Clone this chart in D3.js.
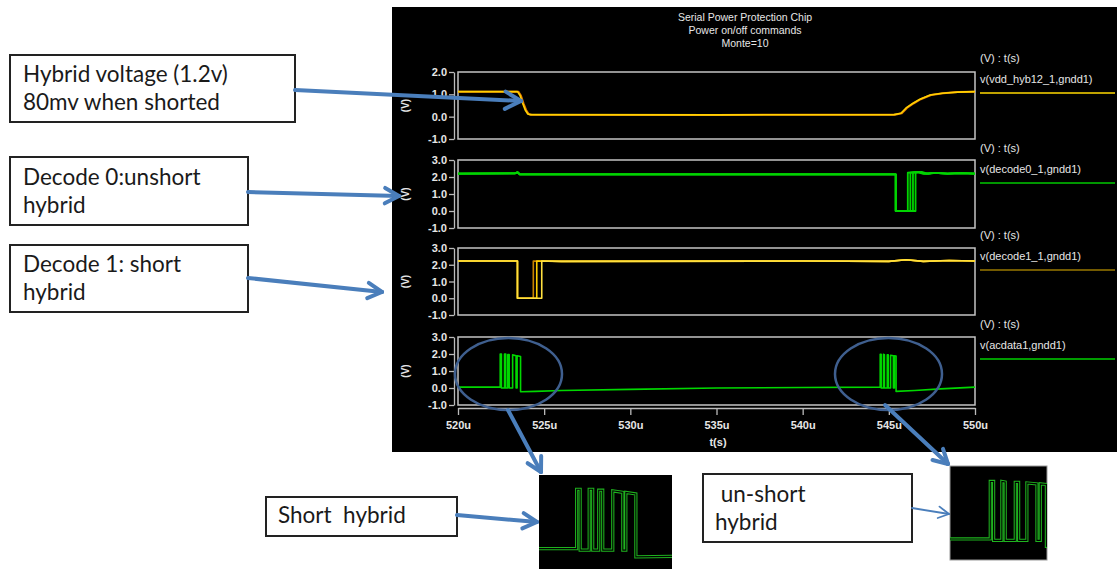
<!DOCTYPE html>
<html>
<head>
<meta charset="utf-8">
<script src="https://cdn.jsdelivr.net/npm/d3@7"></script>
<style>
  body { margin: 0; background: #fff; }
  svg { display: block; }
</style>
</head>
<body>
<svg width="1117" height="569"></svg>
<script>
// ---- data ----
var timeTicks = [520, 525, 530, 535, 540, 545, 550];
var titleLines = ["Serial Power Protection Chip", "Power on/off commands", "Monte=10"];
var signalNames = ["v(vdd_hyb12_1,gndd1)", "v(decode0_1,gndd1)", "v(decode1_1,gndd1)", "v(acdata1,gndd1)"];

// hybrid supply, two monte carlo runs
var hybT  = [520, 523.45, 523.6, 523.75, 523.9, 524.05, 524.2, 535, 545.3, 545.7, 546.0, 546.4, 546.8, 547.4, 548.1, 549, 550];
var hybT2 = [520, 523.5, 523.65, 523.8, 523.95, 524.1, 524.25, 535, 545.35, 545.75, 546.05, 546.45, 546.85, 547.45, 548.15, 549, 550];
var hybV  = [1.12, 1.12, 0.95, 0.6, 0.3, 0.12, 0.09, 0.08, 0.09, 0.15, 0.39, 0.6, 0.78, 0.97, 1.05, 1.1, 1.12];

// decode0, runs differ in return time
var dec0Runs = [
  [520, 523.3, 523.45, 523.6, 545.4, 545.4, 546.1, 546.1, 546.6, 547.0, 547.6, 548.4, 549.2, 550],
  [520, 523.3, 523.45, 523.6, 545.4, 545.4, 546.25, 546.25, 546.7, 547.1, 547.6, 548.4, 549.2, 550],
  [520, 523.3, 523.45, 523.6, 545.4, 545.4, 546.4, 546.4, 546.8, 547.2, 547.6, 548.4, 549.2, 550],
  [520, 523.3, 523.45, 523.6, 545.4, 545.4, 546.55, 546.55, 546.9, 547.3, 547.7, 548.4, 549.2, 550]
];
var dec0V = [2.2, 2.21, 2.28, 2.15, 2.16, 0, 0, 2.25, 2.3, 2.19, 2.24, 2.2, 2.23, 2.2];

// decode1
var dec1Runs = [
  [520, 523.45, 523.45, 524.37, 524.37, 526, 540, 545, 546, 547, 548.5, 550],
  [520, 523.45, 523.45, 524.57, 524.57, 526, 540, 545, 546, 547, 548.5, 550],
  [520, 523.45, 523.45, 524.86, 524.86, 526, 540, 545, 546, 547, 548.5, 550]
];
var dec1V = [2.22, 2.22, 0, 0, 2.22, 2.2, 2.22, 2.2, 2.3, 2.2, 2.25, 2.22];
var dec1Colors = ["#c88400", "#ffd000", "#ffe040"];

// acdata, two command bursts
var acT = [520, 522.45, 522.45, 522.52, 522.52, 522.70, 522.70, 522.77, 522.77, 522.89, 522.89, 522.97, 522.97,
           523.17, 523.17, 523.37, 523.37, 523.43, 523.43, 523.63, 523.63, 524.5, 526, 530, 535, 540, 544.5,
           544.5, 544.555, 544.555, 544.69, 544.69, 544.745, 544.745, 544.91, 544.91, 544.965, 544.965,
           545.10, 545.10, 545.265, 545.265, 545.32, 545.32, 545.42, 545.42, 546.5, 548, 550];
var acV = [0.05, 0.05, 2.0, 2.0, 0.0, 0.0, 2.0, 2.0, 0.0, 0.0, 1.97, 1.97, 0.0,
           0.0, 1.95, 1.9, 0.0, 0.0, 1.9, 1.85, -0.22, -0.2, -0.15, -0.08, 0.0, 0.03, 0.05,
           1.98, 1.98, 0.0, 0.0, 1.98, 1.96, 0.0, 0.0, 1.95, 1.95, 0.0,
           0.0, 1.93, 1.9, 0.0, 0.0, 1.9, 1.88, -0.2, -0.15, -0.05, 0.05];

var notes = [
  ["Hybrid voltage (1.2v)", "80mv when shorted"],
  ["Decode 0:unshort", "hybrid"],
  ["Decode 1: short", "hybrid"],
  ["Short  hybrid"],
  [" un-short", "hybrid"]
];

// ---- drawing ----
var svg = d3.select("svg");
var chartFont = "'Liberation Sans', Arial, sans-serif";
var noteFont = "Lato, 'Open Sans', sans-serif";
var arrowBlue = "#4a7ebb";

function pts(t, v) { return t.map(function(d, i) { return [d, v[i]]; }); }

svg.append("rect").attr("x", 0).attr("y", 0).attr("width", 1117).attr("height", 569).attr("fill", "#fff");
svg.append("rect").attr("x", 392).attr("y", 7).attr("width", 725).attr("height", 445).attr("fill", "#000");

var x = d3.scaleLinear().domain([520, 550]).range([458, 975]);

var title = svg.append("g");
titleLines.forEach(function(t, i) {
  title.append("text").attr("x", 745).attr("y", 21 + i * 13)
    .attr("text-anchor", "middle").attr("font-family", chartFont).attr("font-size", 10.5)
    .attr("fill", "#e6e6e6").text(t);
});

var panels = [
  { top: 72,  bottom: 139, domain: [-1, 2], ticks: [-1, 0, 1, 2], legendY: 58 },
  { top: 160, bottom: 228, domain: [-1, 3], ticks: [-1, 0, 1, 2, 3], legendY: 148 },
  { top: 248, bottom: 315, domain: [-1, 3], ticks: [-1, 0, 1, 2, 3], legendY: 235 },
  { top: 337, bottom: 405, domain: [-1, 3], ticks: [-1, 0, 1, 2, 3], legendY: 324 }
];
var legendColors = ["#ffd800", "#00c800", "#9a7800", "#00d000"];

panels.forEach(function(p, i) {
  p.y = d3.scaleLinear().domain(p.domain).range([p.bottom, p.top]);
  var g = svg.append("g");
  var ax = g.append("g").attr("transform", "translate(454,0)")
    .call(d3.axisLeft(p.y).tickValues(p.ticks).tickSize(5).tickSizeOuter(0).tickPadding(2)
      .tickFormat(function(d) { return d.toFixed(1); }));
  ax.selectAll("path,line").attr("stroke", "#bbb").attr("stroke-width", 1.3);
  ax.selectAll("text").attr("fill", "#e6e6e6").attr("font-family", chartFont)
    .attr("font-size", 11).attr("font-weight", "bold");
  g.append("rect").attr("x", x(520)).attr("y", p.top).attr("width", x(550) - x(520))
    .attr("height", p.bottom - p.top).attr("fill", "none").attr("stroke", "#c4c4c4").attr("stroke-width", 1.5);
  g.append("text").attr("transform", "translate(409," + ((p.top + p.bottom) / 2) + ") rotate(-90)")
    .attr("text-anchor", "middle").attr("font-family", chartFont).attr("font-size", 10)
    .attr("font-weight", "bold").attr("fill", "#e6e6e6").text("(V)");
  // legend
  g.append("text").attr("x", 980).attr("y", p.legendY + 4).attr("font-family", chartFont)
    .attr("font-size", 11).attr("fill", "#e6e6e6").text("(V) : t(s)");
  g.append("text").attr("x", 980).attr("y", p.legendY + 25).attr("font-family", chartFont)
    .attr("font-size", 11).attr("fill", "#e6e6e6").text(signalNames[i]);
  g.append("line").attr("x1", 980).attr("x2", 1115).attr("y1", p.legendY + 35).attr("y2", p.legendY + 35)
    .attr("stroke", legendColors[i]).attr("stroke-width", 1.5);
});

function trace(p, data, color, w) {
  var line = d3.line().x(function(d) { return x(d[0]); }).y(function(d) { return p.y(d[1]); });
  svg.append("path").datum(data).attr("d", line).attr("fill", "none")
    .attr("stroke", color).attr("stroke-width", w || 1.6).attr("stroke-linejoin", "round");
}

trace(panels[0], pts(hybT2, hybV), "#e07a00", 2);
trace(panels[0], pts(hybT, hybV), "#ffd000", 1.6);
dec0Runs.forEach(function(t) { trace(panels[1], pts(t, dec0V), "#00d400", 1.8); });
dec1Runs.forEach(function(t, i) { trace(panels[2], pts(t, dec1V), dec1Colors[i], 1.6); });
trace(panels[3], pts(acT, acV), "#00d800", 1.6);

// x axis
var xa = svg.append("g").attr("transform", "translate(0,408)")
  .call(d3.axisBottom(x).tickValues(timeTicks).tickSize(7).tickSizeOuter(0).tickPadding(6)
    .tickFormat(function(d) { return d + "u"; }));
xa.selectAll("path,line").attr("stroke", "#bbb").attr("stroke-width", 1.3);
xa.selectAll("text").attr("fill", "#e6e6e6").attr("font-family", chartFont)
  .attr("font-size", 11).attr("font-weight", "bold");
svg.append("text").attr("x", 718).attr("y", 446).attr("text-anchor", "middle")
  .attr("font-family", chartFont).attr("font-size", 11).attr("font-weight", "bold")
  .attr("fill", "#e6e6e6").text("t(s)");

// zoomed insets of the two acdata bursts
var insets = [
  { x0: 539, y0: 475, w: 133, h: 94, t: [521.7, 524.35], v: [-0.62, 2.47] },
  { x0: 950, y0: 466, w: 97,  h: 94, t: [543.84, 545.43], v: [-0.66, 2.5] }
];
insets.forEach(function(ins, k) {
  var ix = d3.scaleLinear().domain(ins.t).range([ins.x0, ins.x0 + ins.w]);
  var iy = d3.scaleLinear().domain(ins.v).range([ins.y0 + ins.h, ins.y0]);
  var clipId = "clip" + k;
  svg.append("clipPath").attr("id", clipId).append("rect")
    .attr("x", ins.x0).attr("y", ins.y0).attr("width", ins.w).attr("height", ins.h);
  svg.append("rect").attr("x", ins.x0).attr("y", ins.y0).attr("width", ins.w).attr("height", ins.h)
    .attr("fill", "#000").attr("stroke", k ? "#999" : "none").attr("stroke-width", 1);
  var line = d3.line().x(function(d) { return ix(d[0]); }).y(function(d) { return iy(d[1]); });
  var g = svg.append("g").attr("clip-path", "url(#" + clipId + ")");
  g.append("path").datum(pts(acT, acV)).attr("d", line).attr("fill", "none")
    .attr("stroke", "#1fb31f").attr("stroke-width", 3.2);
  g.append("path").datum(pts(acT, acV)).attr("d", line).attr("fill", "none")
    .attr("stroke", "#000").attr("stroke-width", 1.1);
});

// annotation boxes
var boxes = [
  { x: 10,  y: 55,  w: 285, h: 67, tx: 23,  lines: [82, 110] },
  { x: 10,  y: 157, w: 238, h: 68, tx: 23,  lines: [185, 213] },
  { x: 10,  y: 245, w: 238, h: 67, tx: 23,  lines: [272, 300] },
  { x: 266, y: 497, w: 191, h: 39, tx: 278, lines: [523] },
  { x: 703, y: 474, w: 209, h: 68, tx: 715, lines: [502, 530] }
];
boxes.forEach(function(b, i) {
  svg.append("rect").attr("x", b.x).attr("y", b.y).attr("width", b.w).attr("height", b.h)
    .attr("fill", "#fff").attr("stroke", "#222").attr("stroke-width", 2);
  notes[i].forEach(function(t, j) {
    svg.append("text").attr("x", b.tx).attr("y", b.lines[j]).attr("font-family", noteFont)
      .attr("font-size", 22.5).attr("fill", "#1a1a1a").style("white-space", "pre").text(t);
  });
});

// ellipses around the bursts
[[508.5, 374], [888.5, 374]].forEach(function(c) {
  svg.append("ellipse").attr("cx", c[0]).attr("cy", c[1]).attr("rx", 53.5).attr("ry", 36)
    .attr("fill", "none").attr("stroke", "#3f5f8f").attr("stroke-width", 2.5);
});

function arrow(x1, y1, x2, y2, w, len) {
  var a = Math.atan2(y2 - y1, x2 - x1);
  var g = svg.append("g").attr("stroke", arrowBlue).attr("stroke-width", w)
    .attr("stroke-linecap", "round").attr("fill", "none");
  g.append("line").attr("x1", x1).attr("y1", y1).attr("x2", x2).attr("y2", y2);
  [-0.5, 0.5].forEach(function(s) {
    g.append("line").attr("x1", x2).attr("y1", y2)
      .attr("x2", x2 - len * Math.cos(a + s)).attr("y2", y2 - len * Math.sin(a + s));
  });
}
arrow(295, 90, 521, 101, 4, 18);
arrow(248, 192, 399, 196, 4, 16);
arrow(248, 278, 382, 292, 4, 16);
arrow(508, 410, 541, 472, 4, 16);
arrow(885, 405, 948, 464, 4, 16);
arrow(457, 515, 537, 522, 4, 16);
arrow(912, 508, 949, 514, 1.8, 12);
</script>
</body>
</html>
